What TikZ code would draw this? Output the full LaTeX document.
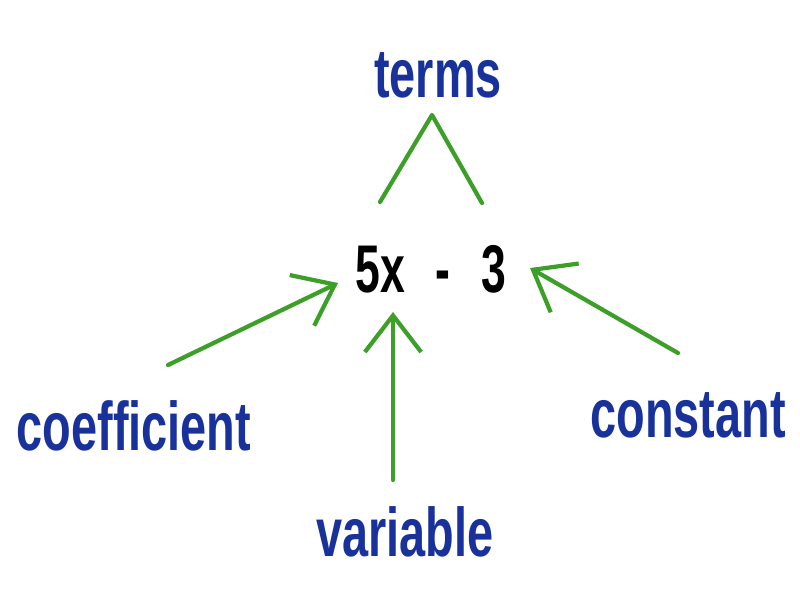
\documentclass[tikz,border=0pt]{standalone}
\usepackage{fontspec}
\setmainfont{Liberation Sans}
\usetikzlibrary{arrows.meta}
\definecolor{termblue}{RGB}{25,50,155}
\definecolor{linegreen}{RGB}{60,160,40}

\begin{document}
\begin{tikzpicture}
  [x=0.025cm,y=-0.025cm,
   word/.style={text=termblue,anchor=base,inner sep=0pt,
     font=\fontsize{49}{51}\selectfont\bfseries,xscale=0.68,transform shape},
   expr/.style={text=black,anchor=base,inner sep=0pt,
     font=\fontsize{48}{50}\selectfont\bfseries,xscale=0.66,transform shape},
   stroke/.style={draw=linegreen,line width=3pt,line cap=round,line join=round},
   arrow/.style={stroke,-{Straight Barb[length=26pt,width=40pt]}}]

  \useasboundingbox (0,0) rectangle (800,600);

  \node[word] (terms) at (438,97) {terms};
  \node[expr] (eqn) at (431,292) {5x\hspace{0.7em}-\hspace{0.7em}3};
  \node[word] (coef) at (134,450) {coefficient};
  \node[word] (var) at (405,556) {variable};
  \node[word] (const) at (688,437) {constant};

  \coordinate (apex) at (432,115);
  \coordinate (capL) at (380,202);
  \coordinate (capR) at (482,203);
  \coordinate (tailL) at (168,365);
  \coordinate (tailV) at (393,480);
  \coordinate (tailR) at (678,353);
  \coordinate (tipL) at (338,283);
  \coordinate (tipV) at (393,312);
  \coordinate (tipR) at (530,268);

  \draw[stroke] (capL) -- (apex) -- (capR);
  \foreach \from/\to in {tailL/tipL,tailV/tipV,tailR/tipR}
    \draw[arrow] (\from) -- (\to);
\end{tikzpicture}
\end{document}
